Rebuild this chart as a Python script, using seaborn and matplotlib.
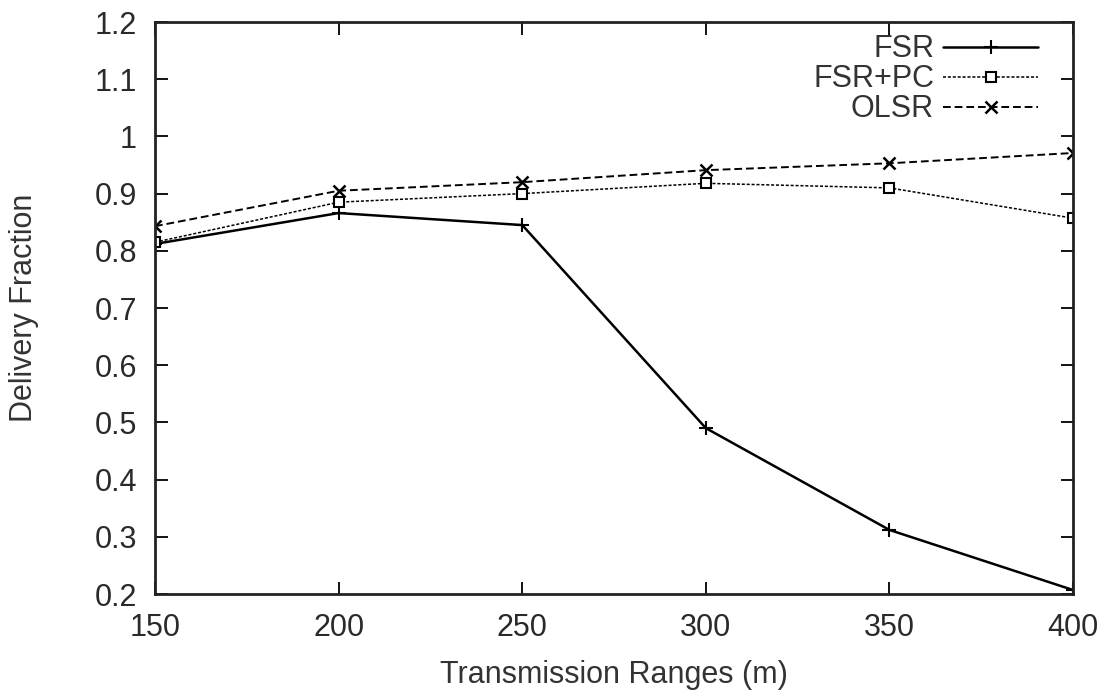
import matplotlib
matplotlib.use("Agg")
import matplotlib.pyplot as plt
import seaborn as sns
import pandas as pd

# --- datos ---
ranges = [150, 200, 250, 300, 350, 400]
fsr = [0.812, 0.866, 0.845, 0.490, 0.312, 0.207]
fsr_pc = [0.815, 0.885, 0.900, 0.918, 0.910, 0.857]
olsr = [0.843, 0.905, 0.920, 0.941, 0.953, 0.971]
series_names = ["FSR", "FSR+PC", "OLSR"]

df = pd.DataFrame({"range": ranges, "FSR": fsr, "FSR+PC": fsr_pc, "OLSR": olsr})

sns.set_style("ticks")
plt.rcParams["font.family"] = ["Liberation Sans", "DejaVu Sans"]

fig = plt.figure(figsize=(11.05, 6.92), dpi=100)
ax = fig.add_axes([0.1403, 0.1416, 0.8308, 0.8266])

styles = {
    "FSR": dict(marker="+", linestyle="-", linewidth=1.8, markersize=10, mew=1.5),
    "FSR+PC": dict(marker="s", linestyle=(0, (2, 1.2)), linewidth=1.1, markersize=7,
                   mfc="white", mew=1.5),
    "OLSR": dict(marker="x", linestyle=(0, (4, 2)), linewidth=1.4, markersize=8, mew=1.8),
}

for name in series_names:
    sns.lineplot(data=df, x="range", y=name, ax=ax, color="black", mec="black",
                 label=name, **styles[name])

ax.set_xlim(150, 400)
ax.set_ylim(0.2, 1.2)
ax.set_xticks(ranges)
ax.set_yticks([0.2, 0.3, 0.4, 0.5, 0.6, 0.7, 0.8, 0.9, 1.0, 1.1, 1.2])
ax.set_yticklabels(["0.2", "0.3", "0.4", "0.5", "0.6", "0.7", "0.8", "0.9", "1", "1.1", "1.2"])
ax.tick_params(direction="in", top=True, right=True, length=9, width=1.3,
               labelsize=22, colors="black", labelcolor="#2a2a2a")
ax.tick_params(axis="x", pad=14)
ax.tick_params(axis="y", pad=13)
for sp in ax.spines.values():
    sp.set_linewidth(2.0)
    sp.set_color("#222222")

ax.set_xlabel("Transmission Ranges (m)", fontsize=22, color="#333333", labelpad=12)
ax.set_ylabel("Delivery Fraction", fontsize=22, color="#333333", labelpad=40)

leg = ax.legend(loc="upper right", frameon=False, markerfirst=False, fontsize=22,
                handlelength=3.1, handletextpad=0.3, borderaxespad=0.0,
                labelspacing=0.0, bbox_to_anchor=(0.975, 1.0))
for t in leg.get_texts():
    t.set_ha("right")
    t.set_color("#333333")

plt.savefig("out.png", dpi=100)
